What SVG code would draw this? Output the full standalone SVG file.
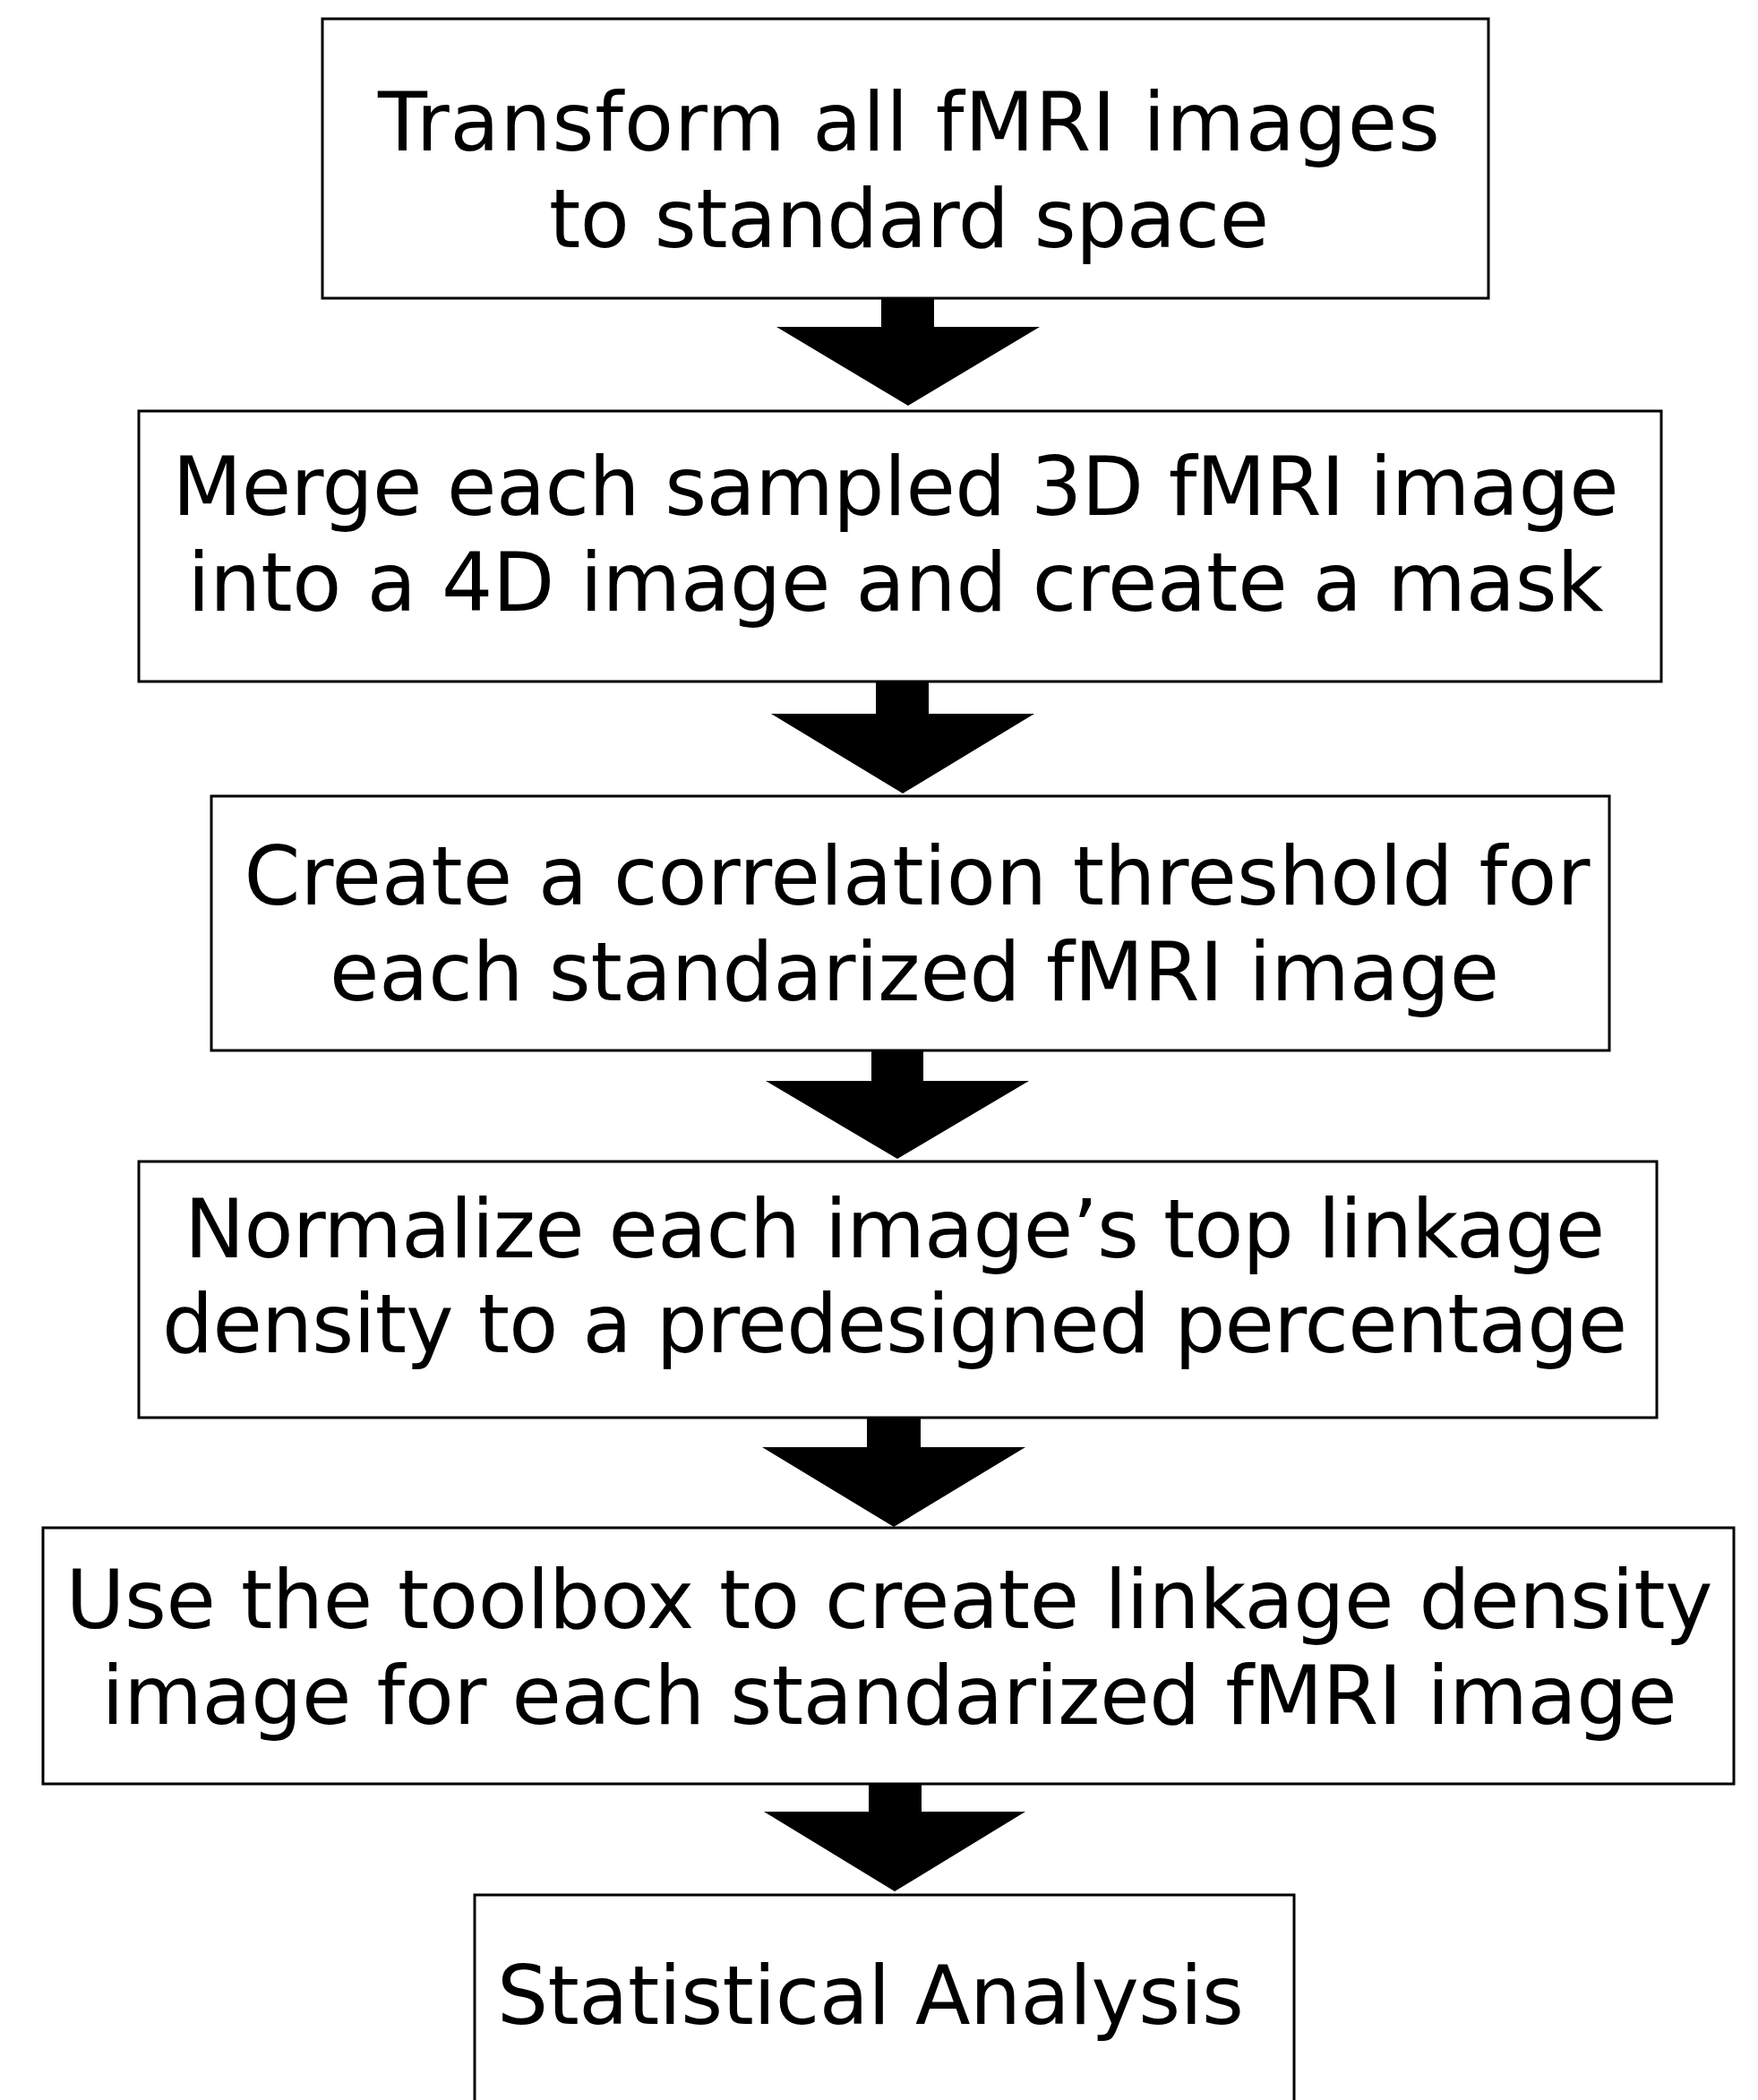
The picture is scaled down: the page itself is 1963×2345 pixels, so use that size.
<svg xmlns="http://www.w3.org/2000/svg" width="1963" height="2345" viewBox="0 0 1963 2345">
<style>
.box{fill:#fff;stroke:#000;stroke-width:3}
.t{font-family:"DejaVu Sans","Verdana",sans-serif;font-size:90px;fill:#000;text-anchor:middle}
.arr{fill:#000;stroke:none}
</style>
<rect width="1963" height="2345" fill="#fff"/>
<g id="connectors">
<path class="arr" d="M984,333 H1043 V365 H1161 L1014,453 L867,365 H984 Z"/>
<path class="arr" d="M978,761 H1037 V797 H1155 L1008,886 L861,797 H978 Z"/>
<path class="arr" d="M973,1173 H1031 V1207 H1149 L1002,1294 L855,1207 H973 Z"/>
<path class="arr" d="M968,1583 H1028 V1616 H1145 L998,1705 L851,1616 H968 Z"/>
<path class="arr" d="M970,1992 H1029 V2023 H1145 L999,2112 L853,2023 H970 Z"/>
</g>
<g id="n1">
<rect class="box" x="360" y="21" width="1302" height="312"/>
<text class="t" x="1015" y="168" textLength="1186" lengthAdjust="spacing">Transform all fMRI images</text>
<text class="t" x="1015" y="276" textLength="804" lengthAdjust="spacing">to standard space</text>
</g>
<g id="n2">
<rect class="box" x="155" y="459" width="1700" height="302"/>
<text class="t" x="1000" y="575" textLength="1615" lengthAdjust="spacing">Merge each sampled 3D fMRI image</text>
<text class="t" x="1000" y="682" textLength="1581" lengthAdjust="spacing">into a 4D image and create a mask</text>
</g>
<g id="n3">
<rect class="box" x="236" y="889" width="1561" height="284"/>
<text class="t" x="1024" y="1010" textLength="1503" lengthAdjust="spacing">Create a correlation threshold for</text>
<text class="t" x="1021" y="1117" textLength="1306" lengthAdjust="spacing">each standarized fMRI image</text>
</g>
<g id="n4">
<rect class="box" x="155" y="1297" width="1695" height="286"/>
<text class="t" x="999" y="1404" textLength="1586" lengthAdjust="spacing">Normalize each image’s top linkage</text>
<text class="t" x="999" y="1510" textLength="1636" lengthAdjust="spacing">density to a predesigned percentage</text>
</g>
<g id="n5">
<rect class="box" x="48" y="1706" width="1888" height="286"/>
<text class="t" x="993" y="1818" textLength="1839" lengthAdjust="spacing">Use the toolbox to create linkage density</text>
<text class="t" x="993" y="1925" textLength="1759" lengthAdjust="spacing">image for each standarized fMRI image</text>
</g>
<g id="n6">
<rect class="box" x="530" y="2116" width="915" height="260"/>
<text class="t" x="972" y="2260" textLength="834" lengthAdjust="spacing">Statistical Analysis</text>
</g>
</svg>
